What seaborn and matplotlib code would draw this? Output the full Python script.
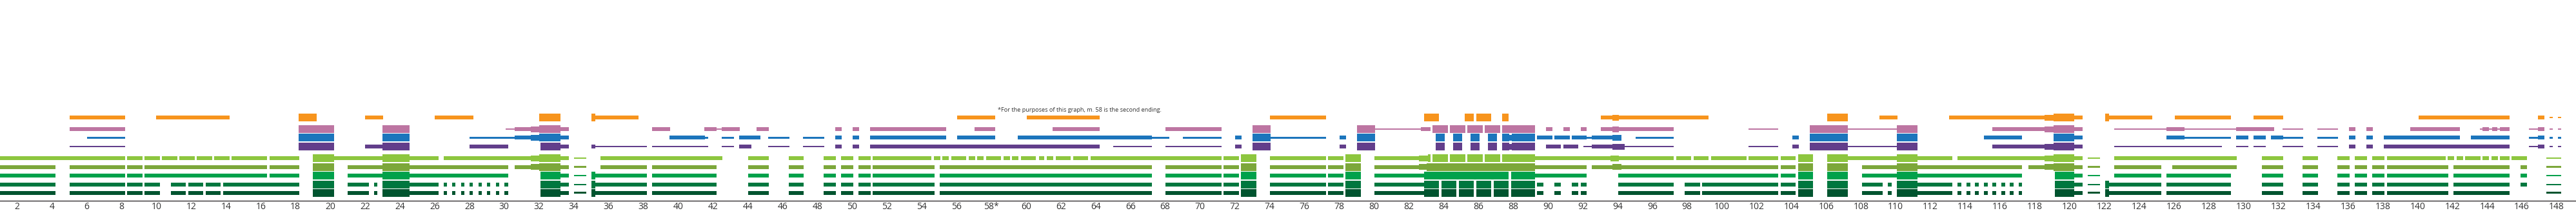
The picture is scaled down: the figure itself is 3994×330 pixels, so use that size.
import matplotlib
matplotlib.use("Agg")
import matplotlib.pyplot as plt
import seaborn as sns

# Each part is a list of (start measure, end measure, level); level 1 = thin, 2 = normal,
# 3 = swelling, 4 = full/tutti weight.
orange_part = [
    (5.01, 8.20, 2), (9.98, 14.21, 2), (18.18, 19.22, 4), (22.00, 23.04, 2),
    (26.00, 28.23, 2), (32.01, 33.23, 4), (35.01, 35.23, 4), (35.23, 37.72, 2),
    (56.04, 58.22, 2), (60.04, 64.23, 2), (74.03, 77.25, 2), (82.89, 83.74, 4),
    (85.23, 85.74, 4), (85.89, 86.75, 4), (87.38, 87.75, 4), (93.05, 93.72, 2),
    (93.72, 94.09, 3), (94.09, 99.23, 2), (106.06, 107.25, 4), (109.06, 110.10, 2),
    (113.07, 118.56, 2), (118.56, 119.08, 3), (119.08, 120.26, 4), (120.26, 120.75, 2),
    (122.04, 122.27, 4), (122.27, 124.75, 2), (126.05, 129.28, 2), (130.57, 132.27, 2),
    (140.06, 145.29, 2), (146.92, 147.29, 2), (147.59, 147.77, 1), (148.07, 148.26, 1),
]

pink_part = [
    (5.01, 8.20, 2), (18.18, 20.22, 4), (23.00, 24.56, 4), (30.08, 30.60, 1),
    (30.60, 31.53, 2), (31.53, 32.01, 3), (32.01, 33.23, 4), (33.23, 33.71, 2),
    (38.50, 39.54, 2), (41.50, 42.21, 2), (42.21, 42.50, 1), (42.50, 43.54, 2),
    (44.51, 45.21, 2), (49.03, 49.40, 2), (50.03, 50.40, 2), (51.03, 55.41, 2),
    (57.04, 58.22, 2), (61.53, 64.23, 2), (68.02, 71.24, 2), (73.02, 74.06, 4),
    (79.03, 80.07, 4), (80.07, 82.70, 1), (82.70, 83.26, 2), (83.37, 84.26, 4),
    (84.37, 85.26, 4), (85.37, 86.26, 4), (86.37, 87.26, 4), (87.38, 89.27, 4),
    (89.90, 90.27, 2), (90.90, 91.27, 2), (91.90, 92.23, 2), (93.05, 93.72, 2),
    (93.72, 94.09, 3), (94.09, 97.23, 2), (101.53, 103.24, 1), (105.06, 107.25, 4),
    (107.25, 110.06, 1), (110.06, 111.25, 4), (115.55, 118.56, 2), (118.56, 119.08, 3),
    (119.08, 120.26, 4), (120.26, 120.75, 2), (122.56, 125.57, 1), (125.57, 126.61, 2),
    (126.61, 129.57, 1), (129.57, 131.75, 2), (132.24, 133.42, 1), (134.24, 135.43, 1),
    (136.06, 136.43, 2), (137.06, 137.43, 2), (139.58, 142.43, 2), (143.58, 143.73, 1),
    (143.73, 144.10, 2), (144.10, 144.29, 1), (144.29, 144.59, 2), (144.59, 144.73, 1),
    (144.73, 145.29, 2), (146.40, 146.92, 1), (146.92, 147.29, 2), (147.59, 147.77, 1),
    (148.07, 148.26, 1),
]

blue_part = [
    (6.01, 8.20, 1), (18.18, 20.22, 4), (23.00, 24.56, 4), (28.01, 30.60, 1),
    (30.60, 31.53, 2), (31.53, 32.01, 3), (32.01, 33.23, 4), (33.23, 33.71, 2),
    (39.50, 41.54, 2), (41.54, 41.72, 1), (42.50, 43.21, 1), (43.50, 44.72, 2),
    (45.17, 46.40, 1), (47.17, 48.40, 1), (49.03, 49.40, 2), (50.03, 50.40, 2),
    (51.03, 55.41, 2), (56.04, 58.22, 2), (59.52, 67.24, 2), (67.24, 68.24, 1),
    (69.02, 71.24, 1), (72.02, 72.39, 2), (73.02, 74.06, 4), (74.06, 77.25, 1),
    (78.03, 78.40, 2), (79.03, 80.07, 4), (83.56, 84.07, 4), (84.56, 85.08, 4),
    (85.56, 86.08, 4), (86.56, 87.08, 4), (87.38, 87.78, 4), (87.78, 87.91, 3),
    (87.91, 89.27, 4), (89.38, 90.27, 2), (90.38, 91.27, 2), (91.38, 92.23, 2),
    (92.23, 92.53, 1), (92.53, 93.72, 2), (93.72, 94.24, 3), (95.05, 97.23, 1),
    (104.05, 104.43, 2), (105.06, 107.25, 4), (110.06, 111.25, 4), (115.07, 117.26, 2),
    (119.08, 120.26, 4), (120.26, 120.75, 2), (125.57, 126.61, 2), (126.61, 129.28, 1),
    (129.57, 130.28, 2), (130.57, 131.28, 2), (131.57, 132.27, 2), (132.27, 133.42, 1),
    (134.24, 135.43, 1), (136.06, 136.43, 2), (137.06, 137.43, 2), (138.06, 142.43, 2),
    (143.06, 145.29, 2), (146.40, 146.92, 1), (146.92, 147.29, 2), (147.59, 147.77, 1),
    (148.07, 148.26, 1),
]

purple_part = [
    (5.01, 8.20, 1), (18.18, 20.22, 4), (22.00, 23.00, 2), (23.00, 24.56, 4),
    (28.01, 30.23, 2), (32.08, 33.23, 4), (33.23, 33.71, 2), (35.01, 35.23, 2),
    (35.23, 38.20, 1), (38.50, 41.72, 1), (42.50, 43.21, 1), (43.50, 44.21, 2),
    (45.17, 46.40, 1), (47.17, 48.40, 1), (49.03, 49.40, 2), (50.03, 50.40, 2),
    (51.03, 64.23, 2), (65.01, 67.24, 1), (68.02, 71.24, 1), (72.02, 72.39, 2),
    (73.02, 74.06, 4), (78.03, 78.40, 2), (79.03, 80.07, 4), (83.56, 84.07, 4),
    (84.56, 85.08, 4), (85.56, 86.08, 4), (86.56, 87.08, 4), (87.38, 87.78, 4),
    (87.78, 87.91, 3), (87.91, 89.27, 4), (89.90, 90.75, 2), (90.90, 91.75, 2),
    (92.05, 92.53, 1), (92.53, 93.72, 2), (93.72, 94.42, 3), (94.42, 97.23, 1),
    (101.53, 103.24, 1), (104.05, 104.43, 2), (105.06, 107.25, 4), (107.25, 110.06, 1),
    (110.06, 111.25, 4), (115.55, 118.56, 2), (118.56, 119.08, 3), (119.08, 120.26, 4),
    (120.26, 120.75, 2), (122.56, 128.76, 1), (129.57, 130.28, 1), (130.57, 131.28, 1),
    (132.24, 133.42, 1), (134.24, 135.43, 1), (136.06, 136.43, 2), (137.06, 137.43, 2),
    (138.06, 145.29, 2), (146.40, 146.92, 1), (146.92, 147.29, 2), (147.59, 147.77, 1),
    (148.07, 148.26, 1),
]

light_green_part = [
    (1.00, 8.20, 2), (8.31, 9.20, 2), (9.32, 10.21, 2), (10.32, 11.21, 2),
    (11.32, 12.21, 2), (12.32, 13.21, 2), (13.32, 14.21, 2), (14.32, 16.36, 2),
    (16.51, 18.22, 2), (18.99, 20.22, 4), (20.22, 23.00, 2), (23.00, 24.56, 4),
    (24.56, 26.22, 2), (26.52, 31.53, 2), (31.53, 32.01, 3), (32.01, 33.23, 4),
    (33.23, 33.71, 2), (34.01, 34.72, 1), (35.53, 42.54, 2), (44.02, 45.21, 2),
    (46.37, 47.21, 2), (48.36, 49.07, 2), (49.37, 50.07, 2), (50.37, 51.07, 2),
    (51.18, 54.56, 2), (54.70, 55.07, 2), (55.19, 55.56, 2), (55.70, 56.56, 2),
    (56.70, 57.07, 2), (57.19, 57.56, 2), (57.71, 58.56, 2), (58.70, 59.07, 2),
    (59.19, 59.56, 2), (59.71, 60.56, 2), (60.75, 61.04, 2), (61.19, 61.56, 2),
    (61.71, 62.56, 2), (62.71, 63.56, 2), (63.71, 71.24, 2), (71.35, 72.24, 2),
    (72.35, 73.24, 4), (74.03, 77.25, 2), (77.36, 78.25, 2), (78.36, 79.25, 4),
    (80.03, 82.59, 2), (82.59, 83.11, 3), (83.11, 83.26, 4), (83.37, 84.26, 4),
    (84.37, 85.26, 4), (85.37, 86.26, 4), (86.37, 87.26, 4), (87.38, 89.27, 4),
    (89.27, 93.59, 2), (93.59, 94.09, 3), (94.09, 97.23, 2), (97.38, 98.23, 2),
    (98.38, 99.23, 2), (99.38, 101.42, 2), (101.53, 103.24, 2), (103.39, 104.24, 2),
    (104.39, 105.24, 4), (106.06, 107.25, 4), (107.25, 110.06, 2), (110.06, 111.25, 4),
    (111.25, 113.25, 2), (113.55, 118.56, 2), (118.56, 119.08, 3), (119.08, 120.26, 4),
    (120.26, 120.75, 2), (121.04, 121.75, 1), (122.56, 129.61, 2), (131.05, 132.27, 2),
    (133.39, 134.28, 2), (135.39, 136.09, 2), (136.39, 137.09, 2), (137.39, 138.10, 2),
    (138.24, 141.62, 2), (141.73, 142.10, 2), (142.25, 142.62, 2), (142.73, 143.62, 2),
    (143.73, 144.10, 2), (144.25, 144.62, 2), (144.73, 145.29, 2), (145.40, 146.29, 2),
    (147.40, 148.26, 1),
]

olive_part = [
    (1.00, 4.20, 2), (5.01, 8.20, 2), (8.31, 9.20, 2), (9.32, 16.36, 2),
    (16.51, 18.22, 2), (18.99, 20.22, 4), (21.00, 23.00, 2), (23.00, 24.56, 4),
    (24.56, 30.23, 2), (30.60, 31.53, 2), (31.53, 32.01, 3), (32.01, 33.23, 4),
    (33.23, 33.71, 2), (34.01, 34.72, 1), (35.53, 38.20, 2), (38.50, 42.21, 2),
    (44.02, 45.21, 2), (46.37, 47.21, 2), (48.36, 49.07, 2), (49.37, 50.07, 2),
    (50.37, 51.07, 2), (51.18, 54.74, 2), (55.04, 67.24, 2), (68.02, 71.24, 2),
    (71.35, 72.24, 2), (72.35, 73.24, 4), (74.03, 77.25, 2), (77.36, 78.25, 2),
    (78.36, 79.25, 4), (80.03, 82.59, 2), (82.59, 83.04, 3), (83.04, 89.27, 4),
    (89.27, 92.23, 2), (92.53, 93.72, 2), (93.72, 94.24, 3), (94.24, 103.24, 2),
    (103.39, 104.24, 2), (104.39, 105.24, 4), (106.06, 107.25, 4), (108.06, 110.06, 2),
    (110.06, 111.25, 4), (111.25, 117.26, 2), (117.63, 118.56, 2), (118.56, 119.08, 3),
    (119.08, 120.26, 4), (120.26, 120.75, 2), (121.04, 121.75, 1), (122.56, 125.27, 2),
    (125.90, 129.61, 2), (131.05, 132.27, 2), (133.39, 134.28, 2), (135.39, 136.09, 2),
    (136.39, 137.09, 2), (137.39, 138.10, 2), (138.24, 141.77, 2), (142.06, 145.29, 2),
    (145.92, 146.29, 2), (147.40, 148.26, 1),
]

green_part = [
    (1.00, 4.20, 2), (5.01, 8.20, 2), (8.31, 9.20, 2), (9.32, 16.36, 2),
    (16.51, 18.22, 2), (18.99, 20.22, 4), (21.00, 23.00, 2), (23.00, 24.56, 4),
    (24.56, 30.23, 2), (32.08, 33.23, 4), (33.23, 33.71, 2), (34.01, 34.72, 1),
    (35.01, 35.23, 4), (35.23, 38.20, 2), (38.50, 42.21, 2), (44.02, 45.21, 2),
    (46.37, 47.21, 2), (48.36, 49.07, 2), (49.37, 50.07, 2), (50.37, 51.07, 2),
    (51.18, 54.74, 2), (55.04, 67.24, 2), (68.02, 71.24, 2), (71.35, 72.24, 2),
    (72.35, 73.24, 4), (74.03, 77.25, 2), (77.36, 78.25, 2), (78.36, 79.25, 4),
    (80.03, 82.89, 2), (82.89, 87.75, 4), (87.90, 89.27, 4), (89.27, 92.23, 2),
    (94.05, 103.24, 2), (103.39, 104.24, 2), (104.39, 105.24, 4), (106.06, 107.25, 4),
    (108.06, 110.06, 2), (110.06, 111.25, 4), (111.25, 117.26, 2), (119.15, 120.26, 4),
    (120.26, 120.75, 2), (121.04, 121.75, 1), (122.56, 125.27, 2), (125.57, 129.28, 2),
    (131.05, 132.27, 2), (133.39, 134.28, 2), (135.39, 136.09, 2), (136.39, 137.09, 2),
    (137.39, 138.10, 2), (138.24, 141.77, 2), (142.06, 145.29, 2), (145.92, 146.29, 2),
    (147.40, 148.26, 1),
]

dark_green_part = [
    (1.00, 4.20, 2), (5.01, 8.20, 2), (8.31, 9.20, 2), (9.32, 10.21, 2),
    (10.84, 11.69, 2), (11.84, 12.69, 2), (12.84, 13.69, 2), (13.84, 18.22, 2),
    (18.99, 20.22, 4), (21.00, 22.22, 2), (22.51, 22.70, 2), (23.00, 24.56, 4),
    (24.56, 26.22, 2), (26.52, 26.71, 2), (27.00, 27.19, 2), (27.52, 27.71, 2),
    (28.00, 28.19, 2), (28.52, 28.71, 2), (29.00, 29.19, 2), (29.52, 29.71, 2),
    (30.00, 30.23, 2), (32.08, 33.23, 4), (33.23, 33.71, 2), (34.01, 34.72, 1),
    (35.01, 35.23, 4), (35.23, 38.20, 2), (38.50, 42.21, 2), (44.02, 45.21, 2),
    (46.37, 47.21, 2), (48.36, 49.07, 2), (49.37, 50.07, 2), (50.37, 51.07, 2),
    (51.18, 54.74, 2), (55.04, 67.24, 2), (68.02, 71.24, 2), (71.35, 72.24, 2),
    (72.35, 73.24, 4), (74.03, 77.25, 2), (77.36, 78.25, 2), (78.36, 79.25, 4),
    (80.03, 82.89, 2), (82.89, 83.74, 4), (83.89, 84.74, 4), (84.89, 85.74, 4),
    (85.89, 86.75, 4), (86.89, 87.75, 4), (87.90, 89.27, 4), (89.38, 89.75, 2),
    (90.38, 90.75, 2), (91.38, 91.75, 2), (91.90, 92.23, 2), (94.05, 97.23, 2),
    (97.87, 98.75, 2), (98.86, 103.24, 2), (103.39, 104.24, 2), (104.39, 105.24, 4),
    (106.06, 107.25, 4), (108.06, 109.25, 2), (109.55, 109.77, 2), (110.06, 111.25, 4),
    (111.25, 113.25, 2), (113.55, 113.77, 2), (114.07, 114.29, 2), (114.55, 114.77, 2),
    (115.07, 115.29, 2), (115.55, 115.77, 2), (116.07, 116.29, 2), (116.55, 116.77, 2),
    (117.07, 117.26, 2), (119.15, 120.26, 4), (120.26, 120.75, 2), (121.04, 121.75, 1),
    (122.04, 122.27, 4), (122.27, 125.27, 2), (125.57, 129.28, 2), (131.05, 132.27, 2),
    (133.39, 134.28, 2), (135.39, 136.09, 2), (136.39, 137.09, 2), (137.39, 138.10, 2),
    (138.24, 141.77, 2), (142.06, 145.29, 2), (145.92, 146.29, 2), (147.40, 148.26, 1),
]

darkest_green_part = [
    (1.00, 4.20, 2), (5.01, 8.20, 2), (8.31, 9.20, 2), (9.32, 10.21, 2),
    (10.84, 11.69, 2), (11.84, 12.69, 2), (12.84, 13.69, 2), (13.84, 18.22, 2),
    (18.99, 20.22, 4), (21.00, 22.22, 2), (22.51, 22.70, 2), (23.00, 24.56, 4),
    (24.56, 26.22, 2), (26.52, 26.71, 2), (27.00, 27.19, 2), (27.52, 27.71, 2),
    (28.00, 28.19, 2), (28.52, 28.71, 2), (29.00, 29.19, 2), (29.52, 29.71, 2),
    (30.00, 30.23, 2), (32.08, 33.23, 4), (33.23, 33.71, 2), (34.01, 34.72, 1),
    (35.01, 35.23, 4), (35.23, 38.20, 2), (38.50, 42.21, 2), (44.02, 45.21, 2),
    (46.37, 47.21, 2), (48.36, 49.07, 2), (49.37, 50.07, 2), (50.37, 51.07, 2),
    (51.18, 54.74, 2), (55.04, 67.24, 2), (68.02, 71.24, 2), (71.35, 72.24, 2),
    (72.35, 73.24, 4), (74.03, 77.25, 2), (77.36, 78.25, 2), (78.36, 79.25, 4),
    (80.03, 82.89, 2), (82.89, 83.74, 4), (83.89, 84.74, 4), (84.89, 85.74, 4),
    (85.89, 86.75, 4), (86.89, 87.75, 4), (87.90, 89.27, 4), (89.38, 89.75, 2),
    (90.38, 90.75, 2), (91.38, 91.75, 2), (91.90, 92.23, 2), (94.05, 97.23, 2),
    (97.87, 98.75, 2), (98.86, 103.24, 2), (103.39, 104.24, 2), (104.39, 105.24, 4),
    (106.06, 107.25, 4), (108.06, 109.25, 2), (109.55, 109.77, 2), (110.06, 111.25, 4),
    (111.25, 113.25, 2), (113.55, 113.77, 2), (114.07, 114.29, 2), (114.55, 114.77, 2),
    (115.07, 115.29, 2), (115.55, 115.77, 2), (116.07, 116.29, 2), (116.55, 116.77, 2),
    (117.07, 117.26, 2), (119.15, 120.26, 4), (120.26, 120.75, 2), (121.04, 121.75, 1),
    (122.04, 122.27, 4), (122.27, 125.27, 2), (125.57, 129.28, 2), (131.05, 132.27, 2),
    (133.39, 134.28, 2), (135.39, 136.09, 2), (136.39, 137.09, 2), (137.39, 138.10, 2),
    (138.24, 141.77, 2), (142.06, 145.29, 2), (147.40, 148.26, 1),
]

measure_ticks = list(range(2, 149, 2))
measure_labels = [f"{m}*" if m == 58 else str(m) for m in measure_ticks]
footnote = "*For the purposes of this graph, m. 58 is the second ending."

# ---- styling ----
parts = [orange_part, pink_part, blue_part, purple_part, light_green_part,
         olive_part, green_part, dark_green_part, darkest_green_part]
palette = sns.color_palette(["#F7941D", "#BD75A2", "#1C75BC", "#623E8B", "#8DC63F",
                             "#7CA73A", "#00A14B", "#00773F", "#00542F"])
row_y = [182.0, 200.0, 213.3, 227.1, 245.0, 258.8, 272.0, 286.0, 298.8]  # px from top
level_height = {1: 2.7, 2: 6.0, 3: 9.0, 4: 11.7}

sns.set_theme(style="white")
plt.rcParams["font.family"] = ["Open Sans", "DejaVu Sans"]

W, H = 3994, 330
AXIS_Y = 311
fig = plt.figure(figsize=(W / 100, H / 100), dpi=100)
fig.patch.set_facecolor("white")
ax = fig.add_axes([0, (H - AXIS_Y) / H, 1, AXIS_Y / H])
ax.set_facecolor("white")
ax.set_xlim(1.01, 149.11)
ax.set_ylim(AXIS_Y, 0)

for part, color, y in zip(parts, palette, row_y):
    lefts = [s for s, e, lvl in part]
    widths = [e - s for s, e, lvl in part]
    heights = [level_height[lvl] for s, e, lvl in part]
    ax.barh([y] * len(part), widths, left=lefts, height=heights,
            color=color, linewidth=0, antialiased=True)

ax.text(58.36, 170.7, footnote, fontsize=6.6, color="#333333", ha="left", va="center")

ax.set_xticks(measure_ticks)
ax.set_xticklabels(measure_labels)
ax.set_yticks([])
ax.tick_params(axis="x", length=0, pad=1.5, labelsize=10, labelcolor="#333333")
sns.despine(ax=ax, left=True, top=True, right=True)
ax.spines["bottom"].set_color("#231F20")
ax.spines["bottom"].set_linewidth(0.9)

fig.savefig("out.png", dpi=100, facecolor="white")
